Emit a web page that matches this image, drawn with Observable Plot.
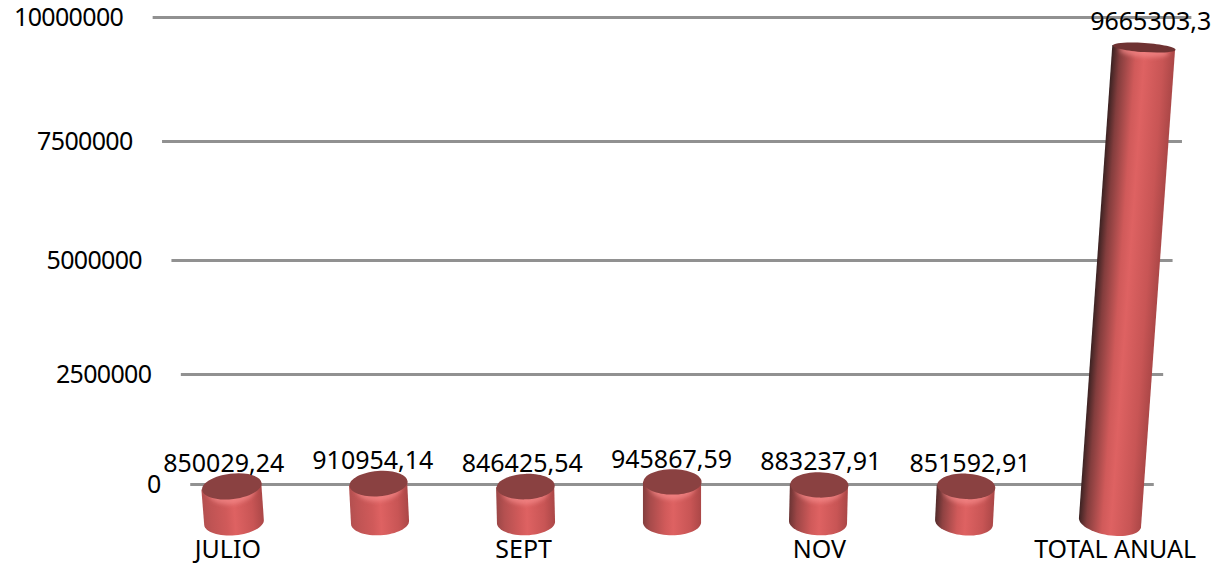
<!DOCTYPE html>
<html><head><meta charset="utf-8">
<script src="https://cdn.jsdelivr.net/npm/d3@7"></script>
<script src="https://cdn.jsdelivr.net/npm/@observablehq/plot@0.6"></script>
<style>html,body{margin:0;padding:0;background:#fff}svg{display:block}</style>
</head><body>
<script>
const categories = ["JULIO","AGOSTO","SEPT","OCT","NOV","DIC","TOTAL ANUAL"];
const shownCategories = ["JULIO","","SEPT","","NOV","","TOTAL ANUAL"];
const values = [850029.24,910954.14,846425.54,945867.59,883237.91,851592.91,9665303.3];
const yTicks = [0,2500000,5000000,7500000,10000000];

const W = 1217, H = 563;
const xDomain = [-1.603, 6.733];
const yDomain = [-1795000,0,2500000,5000000,7500000,10000000];
const yRange = [563,484,374,260,141,17];
const xPos = d3.scaleLinear().domain(xDomain).range([0,W]);
const yPos = d3.scaleLinear().domain(yDomain).range(yRange);
const unit = W/(xDomain[1]-xDomain[0]);

// 3D projection of the original chart
const MID = 3, BASE = -870000, K = 0.0075e-6;
const spread = v => 1 + K*v;
const frontValue = v => 1.0708*v - 955000;
const barX = (i,v) => MID + (i-MID)*spread(v-BASE);
const halfWidth = i => i===6 ? 0.215 : i===0 ? 0.205 : 0.199;

const ellipse = ratio => ({draw(ctx,size){
  const rx = Math.sqrt(size/Math.PI), ry = rx*ratio, c = 0.5523;
  ctx.moveTo(-rx,0);
  ctx.bezierCurveTo(-rx,-ry*c,-rx*c,-ry,0,-ry);
  ctx.bezierCurveTo(rx*c,-ry,rx,-ry*c,rx,0);
  ctx.bezierCurveTo(rx,ry*c,rx*c,ry,0,ry);
  ctx.bezierCurveTo(-rx*c,ry,-rx,ry*c,-rx,0);
  ctx.closePath();
}});

function gradients(){
  const ns = "http://www.w3.org/2000/svg";
  const defs = document.createElementNS(ns,"defs");
  values.forEach((v,i)=>{
    const top = frontValue(v), rx = halfWidth(i)*unit;
    const xb = xPos(barX(i,BASE)), yb = yPos(BASE), xt = xPos(barX(i,top)), yt = yPos(top);
    const L = Math.hypot(xt-xb,yt-yb), px = (yb-yt)/L, py = (xt-xb)/L;
    const g = document.createElementNS(ns,"linearGradient");
    g.setAttribute("id","body"+i);
    g.setAttribute("gradientUnits","userSpaceOnUse");
    g.setAttribute("x1",xb-px*rx); g.setAttribute("y1",yb-py*rx);
    g.setAttribute("x2",xb+px*rx); g.setAttribute("y2",yb+py*rx);
    const dark = d3.interpolateRgb("#b45050","#3a2222")(Math.max(0,i-1)/5);
    const next = d3.interpolateRgb(dark,"#cc5858")(0.5);
    [[0,dark],[0.13,next],[0.38,"#d05a5a"],[0.52,"#de6262"],[0.82,"#c85555"],[1,"#ab4747"]].forEach(([o,c])=>{
      const s = document.createElementNS(ns,"stop");
      s.setAttribute("offset",o); s.setAttribute("stop-color",c);
      g.appendChild(s);
    });
    defs.appendChild(g);
  });
  return defs;
}

function cylinder(v,i){
  const top = frontValue(v);
  const hw = halfWidth(i), rx = hw*unit;
  const topRy = 12.7 - 0.87*top*1e-6, baseRy = 13;
  const rotTop = (i<MID ? 2.3 : 1.3)*(i-MID);
  const rotBase = (i<MID ? 1.7 : 3)*(i-MID)*Math.PI/180;
  const xt = barX(i,top), xb = barX(i,BASE);
  const tilt = (val,s,rad) => yPos.invert(yPos(val)+s*rx*Math.sin(rad));
  // bottom half of the base ellipse, from the side to the centre
  const cap = d3.range(0,17).map(k=>{
    const a = k/16*Math.PI/2, ex = rx*Math.cos(a), ey = baseRy*Math.sin(a);
    const cs = Math.cos(rotBase), sn = Math.sin(rotBase);
    const cx = xPos(xb), cy = yPos(BASE);
    return {
      x1:xPos.invert(cx-ex*cs-ey*sn), y1:yPos.invert(cy-ex*sn+ey*cs),
      x2:xPos.invert(cx+ex*cs-ey*sn), y2:yPos.invert(cy+ex*sn+ey*cs)
    };
  });
  const body = [
    {x1:xt-hw,y1:tilt(top,-1,rotTop*Math.PI/180),x2:xt+hw,y2:tilt(top,1,rotTop*Math.PI/180)},
    ...cap
  ];
  const fill = `url(#body${i})`;
  const topFill = i===6 ? "#6f3232" : "#8a4141";
  return [
    Plot.area(body,{x1:"x1",y1:"y1",x2:"x2",y2:"y2",fill}),
    Plot.dot([0],{x:()=>xt,y:()=>top,r:rx*0.8,dy:4,symbol:ellipse((topRy+1)/(rx*0.8)),rotate:rotTop,fill:"#f58a8a",fillOpacity:0.7,stroke:null,imageFilter:"blur(2px)"}),
    Plot.dot([0],{x:()=>xt,y:()=>top,r:rx,symbol:ellipse(topRy/rx),rotate:rotTop,fill:topFill,stroke:null})
  ];
}

const font = "'Noto Sans', sans-serif";
const plot = Plot.plot({
  width:W, height:H, margin:0,
  style:{background:"#fff",fontFamily:font,color:"#000"},
  x:{domain:xDomain,range:[0,W],axis:null},
  y:{type:"linear",domain:yDomain,range:yRange,axis:null},
  marks:[
    gradients,
    Plot.ruleY(yTicks,{y:d=>d,x1:d=>MID-3.30*(1+0.0078e-6*d),x2:d=>MID+3.30*(1+0.0078e-6*d),stroke:"#919191",strokeWidth:3}),
    Plot.text(yTicks,{y:d=>d,x:d=>MID-3.30*(1+0.0078e-6*d),dx:-30,text:d=>String(d),textAnchor:"end",fontSize:25,fill:"#000"}),
    ...values.flatMap(cylinder),
    Plot.text(values,{
      x:(v,i)=>MID+(i-MID)*spread(frontValue(v)-BASE)*1.016,
      y:v=>frontValue(v)+510000,
      dx:-1,
      text:v=>String(v).replace(".",","),
      fontSize:25,fill:"#000"
    }),
    Plot.text(shownCategories.filter(d=>d),{
      x:d=>MID+(shownCategories.indexOf(d)-MID)*1.013,
      y:()=>-1495000,
      dx:-1,
      text:d=>d,fontSize:25,fill:"#000"
    })
  ]
});
const tickStrings = new Set(yTicks.map(String));
plot.querySelectorAll("text").forEach(t=>{
  if (tickStrings.has(t.textContent)) t.style.letterSpacing = "-0.67px";
});
document.body.appendChild(plot);
</script>
</body></html>
